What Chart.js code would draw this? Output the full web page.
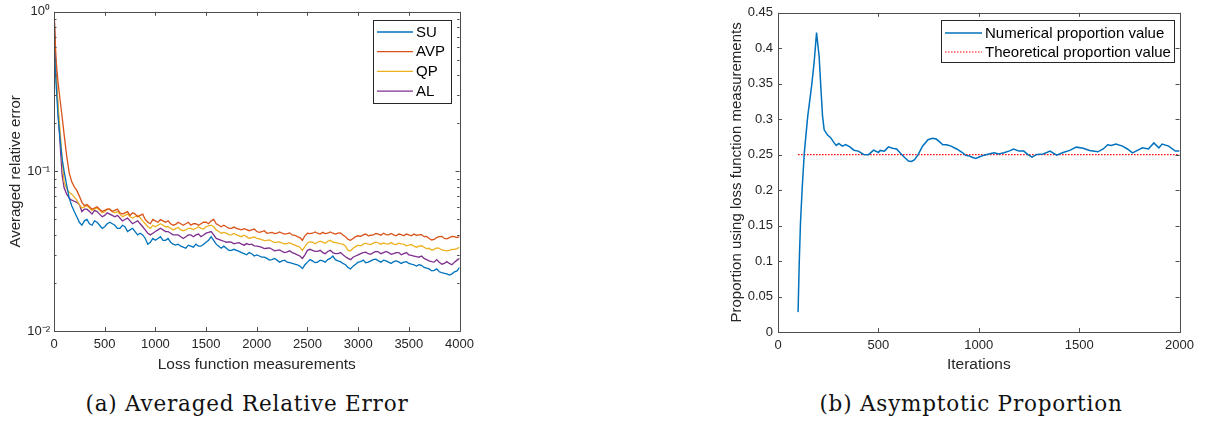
<!DOCTYPE html>
<html>
<head>
<meta charset="utf-8">
<script src="https://cdn.jsdelivr.net/npm/chart.js@4.4.1/dist/chart.umd.min.js"></script>
<style>
  body { margin: 0; background: #fff; width: 1206px; height: 422px; position: relative; overflow: hidden; }
  canvas { position: absolute; top: 0; }
  #errChart { left: 0; }
  #propChart { left: 720px; }
  .caption { position: absolute; top: 391px; font-family: "DejaVu Serif", "Liberation Serif", serif; font-size: 21.5px; letter-spacing: 0.8px; color: #111; white-space: nowrap; transform: translateX(-50%); }
</style>
</head>
<body>
<canvas id="errChart" width="480" height="380"></canvas>
<canvas id="propChart" width="480" height="380"></canvas>
<div class="caption" style="left:247px">(a) Averaged Relative Error</div>
<div class="caption" style="left:971px">(b) Asymptotic Proportion</div>
<script>
// (a) averaged relative error, log scale
const measurements = [1, 20, 40, 60, 80, 100, 125, 150, 175, 200, 225, 250,
  275, 300, 325, 350, 375, 400, 425, 450, 475, 500, 525, 550, 575, 600, 625, 650, 675, 700, 725, 750, 775, 800, 825, 850, 875, 900, 925, 950, 975, 1000,
  1025, 1050, 1075, 1100, 1125, 1150, 1175, 1200, 1225, 1250, 1275, 1300, 1325, 1350, 1375, 1400, 1425, 1450, 1475, 1500,
  1525, 1550, 1575, 1600, 1625, 1650, 1675, 1700, 1725, 1750, 1775, 1800, 1825, 1850, 1875, 1900, 1925, 1950, 1975, 2000,
  2025, 2050, 2075, 2100, 2125, 2150, 2175, 2200, 2225, 2250, 2275, 2300, 2325, 2350, 2375, 2400, 2425, 2450, 2475, 2500,
  2525, 2550, 2575, 2600, 2625, 2650, 2675, 2700, 2725, 2750, 2775, 2800, 2825, 2850, 2875, 2900, 2925, 2950, 2975, 3000,
  3025, 3050, 3075, 3100, 3125, 3150, 3175, 3200, 3225, 3250, 3275, 3300, 3325, 3350, 3375, 3400, 3425, 3450, 3475, 3500,
  3525, 3550, 3575, 3600, 3625, 3650, 3675, 3700, 3725, 3750, 3775, 3800, 3825, 3850, 3875, 3900, 3925, 3950, 3975, 4000];

const su = [0.62, 0.36, 0.22, 0.16, 0.12, 0.10, 0.082, 0.068, 0.061, 0.056, 0.052, 0.048,
  0.046, 0.049, 0.050, 0.047, 0.046, 0.049, 0.048, 0.046, 0.044, 0.045, 0.047, 0.048, 0.047, 0.046, 0.044, 0.044, 0.046, 0.045, 0.042, 0.043, 0.044, 0.042, 0.040, 0.041, 0.040, 0.038, 0.035, 0.036, 0.038, 0.037,
  0.038, 0.039, 0.037, 0.037, 0.038, 0.036, 0.035, 0.0345, 0.035, 0.034, 0.0335, 0.033, 0.0345, 0.034, 0.0335, 0.035, 0.034, 0.034, 0.035, 0.036,
  0.037, 0.039, 0.037, 0.035, 0.034, 0.033, 0.034, 0.033, 0.032, 0.032, 0.0325, 0.032, 0.0315, 0.031, 0.0305, 0.030, 0.031, 0.0305, 0.0295, 0.030,
  0.0295, 0.029, 0.029, 0.0285, 0.0278, 0.028, 0.0285, 0.0278, 0.027, 0.0275, 0.0278, 0.027, 0.0268, 0.0265, 0.0262, 0.026, 0.0255, 0.0246, 0.026, 0.027,
  0.028, 0.0275, 0.0268, 0.027, 0.0278, 0.0275, 0.027, 0.028, 0.0285, 0.0295, 0.028, 0.0275, 0.0272, 0.0265, 0.026, 0.025, 0.0245, 0.0255, 0.0262, 0.027,
  0.0272, 0.0278, 0.0268, 0.027, 0.0275, 0.028, 0.0282, 0.0275, 0.027, 0.0278, 0.0275, 0.027, 0.0265, 0.0272, 0.0275, 0.0271, 0.0265, 0.027, 0.0272, 0.0265,
  0.0262, 0.026, 0.0255, 0.026, 0.0258, 0.025, 0.0248, 0.0245, 0.0238, 0.024, 0.0245, 0.0235, 0.0232, 0.023, 0.0228, 0.0224, 0.0228, 0.0235, 0.0238, 0.025];

const avp = [1.00, 0.50, 0.36, 0.28, 0.22, 0.17, 0.125, 0.098, 0.086, 0.080, 0.076, 0.070,
  0.064, 0.061, 0.062, 0.060, 0.058, 0.059, 0.060, 0.058, 0.056, 0.057, 0.058, 0.058, 0.056, 0.057, 0.058, 0.055, 0.054, 0.055, 0.056, 0.053, 0.055, 0.054, 0.052, 0.053, 0.054, 0.050, 0.048, 0.047, 0.050, 0.049,
  0.048, 0.050, 0.049, 0.048, 0.049, 0.047, 0.046, 0.0466, 0.048, 0.047, 0.046, 0.047, 0.048, 0.046, 0.047, 0.047, 0.046, 0.047, 0.048, 0.048,
  0.047, 0.049, 0.050, 0.047, 0.046, 0.045, 0.046, 0.045, 0.044, 0.044, 0.0448, 0.044, 0.0435, 0.043, 0.0438, 0.0432, 0.0425, 0.043, 0.0435, 0.042,
  0.0415, 0.042, 0.0425, 0.041, 0.0412, 0.0415, 0.0408, 0.041, 0.0418, 0.041, 0.0405, 0.0408, 0.0412, 0.040, 0.0398, 0.039, 0.0385, 0.037, 0.0395, 0.041,
  0.0408, 0.041, 0.0418, 0.041, 0.0405, 0.0415, 0.0408, 0.041, 0.0418, 0.041, 0.0405, 0.041, 0.0412, 0.040, 0.039, 0.0375, 0.037, 0.038, 0.039, 0.0395,
  0.0392, 0.040, 0.0405, 0.0395, 0.0398, 0.040, 0.0408, 0.0405, 0.0398, 0.041, 0.0402, 0.040, 0.0408, 0.040, 0.0395, 0.0405, 0.0402, 0.0395, 0.0405, 0.040,
  0.0395, 0.0405, 0.0398, 0.040, 0.0402, 0.039, 0.0392, 0.038, 0.0372, 0.0375, 0.0385, 0.039, 0.0392, 0.038, 0.0378, 0.0385, 0.0392, 0.039, 0.0385, 0.039];

const qp = [0.55, 0.40, 0.26, 0.18, 0.12, 0.086, 0.078, 0.074, 0.072, 0.069, 0.066, 0.062,
  0.059, 0.060, 0.061, 0.059, 0.057, 0.058, 0.059, 0.057, 0.055, 0.056, 0.058, 0.058, 0.056, 0.055, 0.056, 0.054, 0.052, 0.053, 0.054, 0.052, 0.051, 0.052, 0.053, 0.051, 0.049, 0.047, 0.045, 0.044, 0.046, 0.045,
  0.046, 0.047, 0.046, 0.045, 0.045, 0.044, 0.043, 0.0438, 0.0445, 0.043, 0.0425, 0.043, 0.044, 0.044, 0.0432, 0.044, 0.045, 0.044, 0.0435, 0.045,
  0.0455, 0.046, 0.045, 0.043, 0.042, 0.041, 0.0415, 0.041, 0.0402, 0.040, 0.0408, 0.040, 0.0395, 0.039, 0.0398, 0.039, 0.038, 0.0385, 0.0388, 0.038,
  0.0378, 0.0374, 0.0368, 0.037, 0.0372, 0.0365, 0.0358, 0.036, 0.0362, 0.0355, 0.0352, 0.0353, 0.0358, 0.035, 0.0345, 0.034, 0.0335, 0.032, 0.0338, 0.0356,
  0.0362, 0.036, 0.0352, 0.036, 0.0365, 0.036, 0.0355, 0.0365, 0.037, 0.036, 0.0358, 0.0355, 0.0352, 0.035, 0.034, 0.032, 0.0318, 0.033, 0.0338, 0.0345,
  0.0342, 0.035, 0.0355, 0.035, 0.0348, 0.0355, 0.036, 0.0356, 0.035, 0.0356, 0.0352, 0.035, 0.0358, 0.035, 0.0348, 0.0355, 0.0352, 0.035, 0.0342, 0.0345,
  0.0348, 0.034, 0.0335, 0.034, 0.0342, 0.0335, 0.0328, 0.033, 0.0322, 0.0325, 0.0332, 0.033, 0.0322, 0.032, 0.0318, 0.032, 0.0325, 0.0325, 0.0328, 0.0335];

const al = [0.98, 0.42, 0.24, 0.15, 0.095, 0.079, 0.072, 0.068, 0.066, 0.065, 0.064, 0.062,
  0.056, 0.058, 0.058, 0.056, 0.054, 0.057, 0.056, 0.054, 0.052, 0.053, 0.055, 0.054, 0.053, 0.052, 0.053, 0.051, 0.049, 0.050, 0.051, 0.049, 0.047, 0.048, 0.049, 0.047, 0.045, 0.043, 0.041, 0.040, 0.041, 0.042,
  0.043, 0.044, 0.043, 0.042, 0.042, 0.041, 0.040, 0.040, 0.040, 0.039, 0.038, 0.039, 0.040, 0.040, 0.039, 0.040, 0.0405, 0.039, 0.040, 0.041,
  0.0415, 0.042, 0.040, 0.038, 0.0375, 0.037, 0.0365, 0.036, 0.0362, 0.036, 0.0352, 0.0355, 0.0358, 0.035, 0.0345, 0.0353, 0.0348, 0.035, 0.0342, 0.034,
  0.0338, 0.0334, 0.0328, 0.033, 0.0332, 0.0325, 0.0318, 0.032, 0.0322, 0.0315, 0.031, 0.0313, 0.0318, 0.031, 0.0305, 0.030, 0.0295, 0.0285, 0.030, 0.032,
  0.0325, 0.032, 0.0315, 0.0315, 0.032, 0.031, 0.0305, 0.0315, 0.032, 0.031, 0.0305, 0.0305, 0.031, 0.030, 0.0292, 0.0285, 0.028, 0.029, 0.0295, 0.030,
  0.0305, 0.031, 0.0312, 0.0305, 0.0302, 0.031, 0.0315, 0.0313, 0.0305, 0.031, 0.0315, 0.031, 0.0302, 0.0305, 0.031, 0.031, 0.030, 0.0305, 0.031, 0.030,
  0.0298, 0.0295, 0.0292, 0.029, 0.0295, 0.0285, 0.028, 0.0275, 0.0272, 0.027, 0.028, 0.027, 0.0262, 0.0265, 0.0272, 0.0265, 0.026, 0.027, 0.0278, 0.0285];

const errTicks = [0.01, 0.02, 0.03, 0.04, 0.05, 0.06, 0.07, 0.08, 0.09, 0.1, 0.2, 0.3, 0.4, 0.5, 0.6, 0.7, 0.8, 0.9, 1];
const errTickLabels = { 0.01: "10\u207B\u00B2", 0.1: "10\u207B\u00B9", 1: "10\u2070" };

// (b) asymptotic proportion
const iterations = [100, 106, 112, 120, 131, 148, 167, 180, 192, 205, 214, 222, 230, 246, 262, 279, 290, 303, 320, 337, 358, 378, 400, 427, 451, 476,
  500, 509, 530, 550, 570, 591, 610, 632, 650, 665, 680, 698, 720, 747, 770, 788, 805, 821, 840, 862, 890, 920, 935, 953, 970, 985,
  1005, 1027, 1050, 1076, 1100, 1125, 1150, 1174, 1200, 1224, 1245, 1265, 1289, 1322, 1355, 1388, 1420, 1453, 1486, 1520, 1552, 1593,
  1620, 1642, 1660, 1683, 1716, 1740, 1766, 1790, 1815, 1845, 1872, 1897, 1913, 1946, 1979, 2000];
const numerical = [0.028, 0.10, 0.154, 0.20, 0.2526, 0.304, 0.346, 0.38, 0.422, 0.388, 0.342, 0.304, 0.285, 0.278, 0.274, 0.267, 0.263, 0.2657, 0.262, 0.2643, 0.261, 0.2563, 0.255, 0.2503, 0.250, 0.2563,
  0.253, 0.256, 0.255, 0.261, 0.259, 0.258, 0.252, 0.2456, 0.241, 0.2405, 0.243, 0.250, 0.262, 0.271, 0.273, 0.272, 0.268, 0.264, 0.264, 0.262, 0.258, 0.2526, 0.249, 0.248, 0.246, 0.2447,
  0.247, 0.2493, 0.251, 0.2526, 0.251, 0.2526, 0.255, 0.258, 0.255, 0.255, 0.250, 0.2465, 0.2503, 0.251, 0.255, 0.2493, 0.253, 0.256, 0.2606, 0.259, 0.256, 0.254,
  0.258, 0.264, 0.263, 0.265, 0.262, 0.258, 0.2526, 0.256, 0.2596, 0.258, 0.2666, 0.2596, 0.265, 0.262, 0.255, 0.255];
const theoryX = [100, 2000];
const theory = [0.25, 0.25];

Chart.defaults.font.family = "'Liberation Sans', Arial, sans-serif";
Chart.defaults.font.size = 13;
Chart.defaults.color = "#262626";

const pts = (xs, ys) => xs.map((x, i) => ({ x: x, y: ys[i] }));

// box around the axes with inward ticks, like matlab
const boxTicks = {
  id: "boxTicks",
  afterDatasetsDraw(chart) {
    const { ctx, chartArea: a, scales: { x, y } } = chart;
    ctx.save();
    ctx.strokeStyle = "#4d4d4d";
    ctx.lineWidth = 1;
    ctx.beginPath();
    x.ticks.forEach(t => {
      const px = Math.round(x.getPixelForValue(t.value)) + 0.5;
      ctx.moveTo(px, a.bottom); ctx.lineTo(px, a.bottom - 4);
      ctx.moveTo(px, a.top); ctx.lineTo(px, a.top + 4);
    });
    y.ticks.forEach(t => {
      const py = Math.round(y.getPixelForValue(t.value)) + 0.5;
      const len = (y.type === "logarithmic" && !t.label) ? 2.5 : 4;
      ctx.moveTo(a.left, py); ctx.lineTo(a.left + len, py);
      ctx.moveTo(a.right, py); ctx.lineTo(a.right - len, py);
    });
    ctx.stroke();
    ctx.strokeRect(Math.round(a.left) + 0.5, Math.round(a.top) + 0.5, Math.round(a.width), Math.round(a.height));
    ctx.restore();
  }
};

// legend box drawn inside the axes
const boxLegend = {
  id: "boxLegend",
  afterDraw(chart, args, o) {
    const ctx = chart.ctx;
    ctx.save();
    ctx.fillStyle = "#fff";
    ctx.fillRect(o.left, o.top, o.width, o.height);
    ctx.strokeStyle = "#262626";
    ctx.lineWidth = 1;
    ctx.strokeRect(o.left + 0.5, o.top + 0.5, o.width, o.height);
    ctx.font = o.fontSize + "px 'Liberation Sans', Arial, sans-serif";
    ctx.textBaseline = "middle";
    chart.data.datasets.forEach((ds, i) => {
      const cy = o.top + o.firstRow + i * o.rowHeight;
      ctx.strokeStyle = ds.borderColor;
      ctx.lineWidth = ds.borderWidth;
      ctx.setLineDash(ds.borderDash || []);
      ctx.beginPath();
      ctx.moveTo(o.left + 4, cy); ctx.lineTo(o.left + 4 + o.lineLen, cy);
      ctx.stroke();
      ctx.setLineDash([]);
      ctx.fillStyle = "#000";
      ctx.fillText(ds.label, o.left + 7 + o.lineLen, cy + 0.5);
    });
    ctx.restore();
  }
};

new Chart(document.getElementById("errChart"), {
  type: "line",
  data: {
    datasets: [
      { label: "SU", data: pts(measurements, su), borderColor: "#0072BD", borderWidth: 1.3 },
      { label: "AVP", data: pts(measurements, avp), borderColor: "#D95319", borderWidth: 1.3 },
      { label: "QP", data: pts(measurements, qp), borderColor: "#EDB120", borderWidth: 1.3 },
      { label: "AL", data: pts(measurements, al), borderColor: "#7E2F8E", borderWidth: 1.3 }
    ]
  },
  options: {
    responsive: false,
    animation: false,
    layout: { padding: { top: 11, right: 19, left: 0, bottom: 0 } },
    elements: { point: { radius: 0 }, line: { tension: 0 } },
    plugins: {
      legend: { display: false },
      tooltip: { enabled: false },
      boxLegend: { left: 373, top: 20, width: 78, height: 83, firstRow: 12, rowHeight: 19.7, lineLen: 36, fontSize: 15 }
    },
    scales: {
      x: {
        type: "linear", min: 0, max: 4000,
        ticks: { stepSize: 500, padding: 6, maxRotation: 0, callback: v => String(v) },
        grid: { display: false, drawTicks: false }, border: { display: false },
        title: { display: true, text: "Loss function measurements", font: { size: 15.5 }, padding: { top: 0, bottom: 6 } },
        afterFit: s => { s.height = 49; }
      },
      y: {
        type: "logarithmic", min: 0.01, max: 1,
        afterBuildTicks: s => { s.ticks = errTicks.map(v => ({ value: v })); },
        ticks: { autoSkip: false, padding: 4, callback: v => errTickLabels[v] || "" },
        grid: { display: false, drawTicks: false }, border: { display: false },
        title: { display: true, text: "Averaged relative error", font: { size: 15 }, padding: { top: 7, bottom: 0 } },
        afterFit: s => { s.width = 54; }
      }
    }
  },
  plugins: [boxTicks, boxLegend]
});

new Chart(document.getElementById("propChart"), {
  type: "line",
  data: {
    datasets: [
      { label: "Numerical proportion value", data: pts(iterations, numerical), borderColor: "#0072BD", borderWidth: 1.5 },
      { label: "Theoretical proportion value", data: pts(theoryX, theory), borderColor: "#FF0000", borderWidth: 1.2, borderDash: [1.5, 1.5] }
    ]
  },
  options: {
    responsive: false,
    animation: false,
    layout: { padding: { top: 11, right: 16, left: 0, bottom: 0 } },
    elements: { point: { radius: 0 }, line: { tension: 0 } },
    plugins: {
      legend: { display: false },
      tooltip: { enabled: false },
      boxLegend: { left: 221, top: 20, width: 233, height: 42, firstRow: 13, rowHeight: 19, lineLen: 37, fontSize: 15 }
    },
    scales: {
      x: {
        type: "linear", min: 0, max: 2000,
        ticks: { stepSize: 500, padding: 6, maxRotation: 0, callback: v => String(v) },
        grid: { display: false, drawTicks: false }, border: { display: false },
        title: { display: true, text: "Iterations", font: { size: 15.5 }, padding: { top: 0, bottom: 6 } },
        afterFit: s => { s.height = 48; }
      },
      y: {
        type: "linear", min: 0, max: 0.45,
        ticks: { stepSize: 0.05, padding: 5, callback: v => String(Math.round(v * 100) / 100) },
        grid: { display: false, drawTicks: false }, border: { display: false },
        title: { display: true, text: "Proportion using loss function measurements", font: { size: 15 }, padding: { top: 8, bottom: 0 } },
        afterFit: s => { s.width = 58; }
      }
    }
  },
  plugins: [boxTicks, boxLegend]
});
</script>
</body>
</html>
